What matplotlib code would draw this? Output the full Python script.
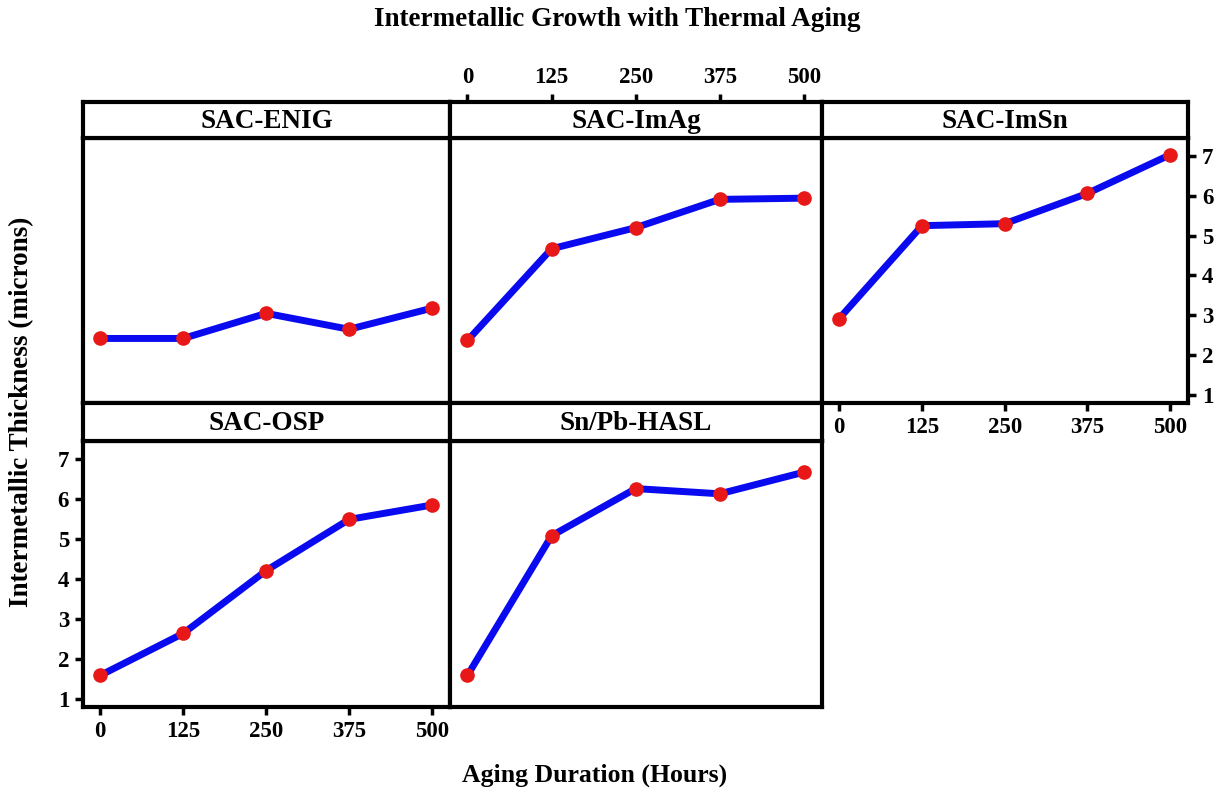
import matplotlib
matplotlib.use("Agg")
import matplotlib.pyplot as plt

plt.rcParams['font.family'] = ['Liberation Serif', 'DejaVu Serif']
plt.rcParams['font.weight'] = 'bold'

# data
hours = [0, 125, 250, 375, 500]
panels = ["SAC-ENIG", "SAC-ImAg", "SAC-ImSn", "SAC-OSP", "Sn/Pb-HASL"]
enig = [2.42, 2.42, 3.05, 2.65, 3.18]
imag = [2.37, 4.67, 5.20, 5.91, 5.94]
imsn = [2.92, 5.25, 5.30, 6.06, 7.03]
osp = [1.59, 2.64, 4.21, 5.49, 5.85]
hasl = [1.59, 5.08, 6.26, 6.13, 6.67]
thickness = [enig, imag, imsn, osp, hasl]
yticks = [1, 2, 3, 4, 5, 6, 7]

W, H = 1230, 792
fig = plt.figure(figsize=(W / 100, H / 100), dpi=100)

cols = [(83, 450), (450, 822), (822, 1188)]
# (strip top, strip bottom, panel bottom) in pixels
rows = [(102, 138, 403), (403, 441, 707)]


def box(x0, x1, y0, y1):
    return [x0 / W, 1 - y1 / H, (x1 - x0) / W, (y1 - y0) / H]


def style(ax):
    for s in ax.spines.values():
        s.set_linewidth(3)
    ax.tick_params(bottom=False, top=False, left=False, right=False,
                   labelbottom=False, labeltop=False, labelleft=False, labelright=False,
                   direction='out', length=6, width=2.5, labelsize=16.5, pad=4)


xlim = (-26, 527)
ylim = (0.8, 7.45)

for i, name in enumerate(panels):
    r, c = divmod(i, 3)
    x0, x1 = cols[c]
    st, sb, pb = rows[r]

    ax = fig.add_axes(box(x0, x1, sb, pb))
    style(ax)
    ax.plot(hours, thickness[i], color='#0a0af0', lw=5, zorder=2)
    ax.plot(hours, thickness[i], 'o', color='#e81818', ms=9.5, zorder=3)
    ax.set_xlim(*xlim)
    ax.set_ylim(*ylim)
    ax.set_xticks(hours)
    ax.set_yticks(yticks)

    strip = fig.add_axes(box(x0, x1, st, sb))
    style(strip)
    strip.set_xlim(*xlim)
    strip.set_yticks([])
    strip.set_xticks(hours)
    strip.text(0.5, 0.45, name, transform=strip.transAxes, ha='center', va='center',
               fontsize=19.5, fontweight='bold')

    if name == "SAC-ImAg":
        strip.tick_params(top=True, labeltop=True)
    if name in ("SAC-ImSn", "SAC-OSP"):
        ax.tick_params(bottom=True, labelbottom=True)
    if name == "SAC-ImSn":
        ax.tick_params(right=True, labelright=True)
    if name == "SAC-OSP":
        ax.tick_params(left=True, labelleft=True)

fig.text(617 / W, 1 - 20 / H, "Intermetallic Growth with Thermal Aging",
         ha='center', va='center', fontsize=19.5, fontweight='bold')
fig.text(595 / W, 1 - 775 / H, "Aging Duration (Hours)",
         ha='center', va='center', fontsize=18.5, fontweight='bold')
fig.text(22 / W, 1 - 412 / H, "Intermetallic Thickness (microns)",
         ha='center', va='center', rotation=90, fontsize=19.5, fontweight='bold')

fig.savefig("out.png", dpi=100)
